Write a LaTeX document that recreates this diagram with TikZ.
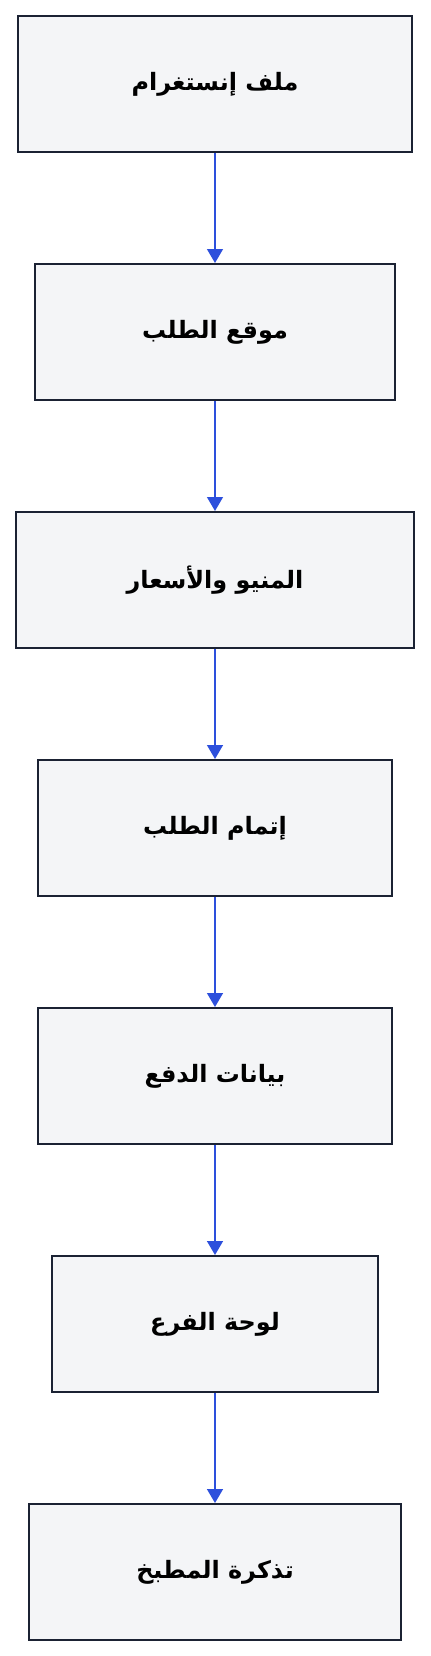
\documentclass[tikz,border=0pt]{standalone}
\usepackage{fontspec}
\newfontfamily\arabicfont[Script=Arabic]{DejaVu Sans}
\TeXXeTstate=1
\usetikzlibrary{positioning, arrows.meta}
\definecolor{boxfill}{HTML}{F4F5F7}
\definecolor{boxline}{HTML}{1B2233}
\definecolor{flowblue}{HTML}{2D50DC}

\begin{document}
\begin{tikzpicture}[x=1bp, y=1bp,
  stage/.style={draw=boxline, fill=boxfill, line width=2bp, minimum height=136bp, inner sep=0pt,
    font=\arabicfont\bfseries\fontsize{24}{28}\selectfont},
  flow/.style={draw=flowblue, line width=1.4bp, -{Triangle[width=16bp, length=14bp]}}]
\useasboundingbox (0,0) rectangle (430,-1656);
% Order stages, top to bottom
\node[stage, minimum width=393bp] (insta) at (215,-84) {\beginR ملف إنستغرام\endR};
\node[stage, minimum width=360bp, below=110bp of insta] (site) {\beginR موقع الطلب\endR};
\node[stage, minimum width=398bp, below=110bp of site] (menu) {\beginR المنيو والأسعار\endR};
\node[stage, minimum width=354bp, below=110bp of menu] (checkout) {\beginR إتمام الطلب\endR};
\node[stage, minimum width=354bp, below=110bp of checkout] (payment) {\beginR بيانات الدفع\endR};
\node[stage, minimum width=326bp, below=110bp of payment] (branch) {\beginR لوحة الفرع\endR};
\node[stage, minimum width=372bp, below=110bp of branch] (kitchen) {\beginR تذكرة المطبخ\endR};
% Connectors
\foreach \from/\to in {insta/site, site/menu, menu/checkout, checkout/payment, payment/branch, branch/kitchen}
  \draw[flow] (\from) -- (\to);
\end{tikzpicture}
\end{document}
